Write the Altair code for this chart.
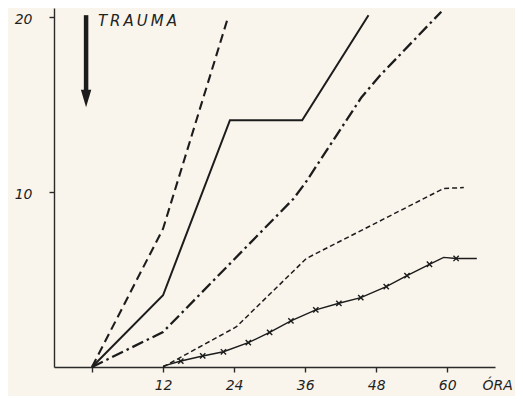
import altair as alt
import pandas as pd

# ---- data (hours after trauma, value) ----
long_dash_h = [0, 12, 23]
long_dash_v = [0, 7.9, 20.0]

solid_h = [0, 12, 23.3, 35.5, 46.7]
solid_v = [0, 4.1, 14.1, 14.1, 20.1]

dashdot_h = [0, 12, 34, 36, 45.5, 48.5, 59]
dashdot_v = [0, 2.0, 9.6, 10.5, 15.4, 16.6, 20.3]

short_dash_h = [12, 24.4, 36.2, 59.4, 62.8]
short_dash_v = [0, 2.3, 6.2, 10.2, 10.25]

cross_line_h = [12, 15.0, 18.7, 22.2, 26.4, 30.0, 33.6, 37.8, 41.7, 45.4, 49.7, 53.2, 57.0, 59.4, 61.5, 65.0]
cross_line_v = [0.05, 0.34, 0.63, 0.87, 1.39, 1.98, 2.63, 3.26, 3.64, 3.96, 4.59, 5.22, 5.87, 6.26, 6.2, 6.2]

cross_mark_h = [15.0, 18.7, 22.2, 26.4, 30.0, 33.6, 37.8, 41.7, 45.4, 49.7, 53.2, 57.0, 61.5]
cross_mark_v = [0.34, 0.63, 0.87, 1.39, 1.98, 2.63, 3.26, 3.64, 3.96, 4.59, 5.22, 5.87, 6.2]

x_ticks = [0, 12, 24, 36, 48, 60]
y_ticks = [10, 20]
x_title = "ÓRA"

trauma_label = "T\u2009R\u2009A\u2009U\u2009M\u2009A"
trauma_label_h = [1.0]
trauma_label_v = [19.75]
arrow_h = [-1.0]
arrow_top = [20.1]
arrow_bottom = [15.8]
arrow_head_v = [15.34]

# ---- styling ----
INK = "#1c1c1c"
TEXT = "#1f1f1f"
PAPER = "#f9f5ec"
FONT = "DejaVu Sans"

x_scale = alt.Scale(domain=[-6.42, 68.07], nice=False, zero=False)
y_scale = alt.Scale(domain=[0, 20.51], nice=False, zero=False)

x_axis = alt.Axis(
    values=x_ticks, labelExpr="datum.value == 0 ? '' : datum.label",
    grid=False, tickSize=5, labelPadding=6, labelFontSize=14, labelFont=FONT,
    labelFontStyle="italic", labelColor=TEXT, domainColor="#2a2a2a",
    tickColor="#2a2a2a", domainWidth=1.4, tickWidth=1.4,
    title=x_title, titleX=428, titleY=11, titleAlign="left", titleBaseline="top",
    titleAnchor="start", titleFont=FONT, titleFontSize=14, titleFontStyle="italic",
    titleFontWeight="normal", titleColor=TEXT,
)
y_axis = alt.Axis(
    values=y_ticks, grid=False, tickSize=5, labelPadding=17, labelFontSize=14,
    labelFont=FONT, labelFontStyle="italic", labelColor=TEXT,
    domainColor="#2a2a2a", tickColor="#2a2a2a", domainWidth=1.4, tickWidth=1.4,
    labelOffset=3, title="",
)

X = alt.X("h:Q", scale=x_scale, axis=x_axis)
Y = alt.Y("v:Q", scale=y_scale, axis=y_axis)


def df(h, v):
    return pd.DataFrame({"h": h, "v": v, "o": list(range(len(h)))})


def line(h, v, dash=None, width=2.0):
    kw = dict(color=INK, strokeWidth=width, clip=False)
    if dash is not None:
        kw["strokeDash"] = dash
    return alt.Chart(df(h, v)).mark_line(**kw).encode(x=X, y=Y, order="o:Q")


long_dash = line(long_dash_h, long_dash_v, [9, 5], 2.1)
solid = line(solid_h, solid_v, None, 2.0)
dashdot = line(dashdot_h, dashdot_v, [12, 4, 2.5, 4], 2.3)
short_dash = line(short_dash_h, short_dash_v, [5, 3], 1.5)
cross_line = line(cross_line_h, cross_line_v, None, 1.4)

crosses = alt.Chart(df(cross_mark_h, cross_mark_v)).mark_point(
    shape="M-1,-1L1,1M-1,1L1,-1", size=28, filled=False, color=INK,
    strokeWidth=1.4, opacity=1, clip=False,
).encode(x=X, y=Y)

arrow_df = pd.DataFrame({"h": arrow_h, "v": arrow_top, "v2": arrow_bottom})
arrow_shaft = alt.Chart(arrow_df).mark_rule(color=INK, strokeWidth=4.5).encode(
    x=X, y=Y, y2="v2:Q"
)
arrow_head = alt.Chart(df(arrow_h, arrow_head_v)).mark_point(
    shape="M-0.6,-1L0.6,-1L0,1Z", size=300, filled=True, color=INK, opacity=1,
).encode(x=X, y=Y)

trauma = alt.Chart(df(trauma_label_h, trauma_label_v)).mark_text(
    text=trauma_label, align="left", baseline="middle", font=FONT,
    fontSize=15, fontStyle="italic", color="#222",
).encode(x=X, y=Y)

chart = alt.layer(
    long_dash, solid, dashdot, short_dash, cross_line, crosses,
    arrow_shaft, arrow_head, trauma,
).properties(
    width=441, height=359,
    autosize=alt.AutoSizeParams(type="none"),
    padding={"left": 46, "top": 0, "right": 20, "bottom": 29},
    background=PAPER,
).configure_view(stroke=None)

chart.save("out.html", embed_options={"renderer": "svg", "actions": False})
